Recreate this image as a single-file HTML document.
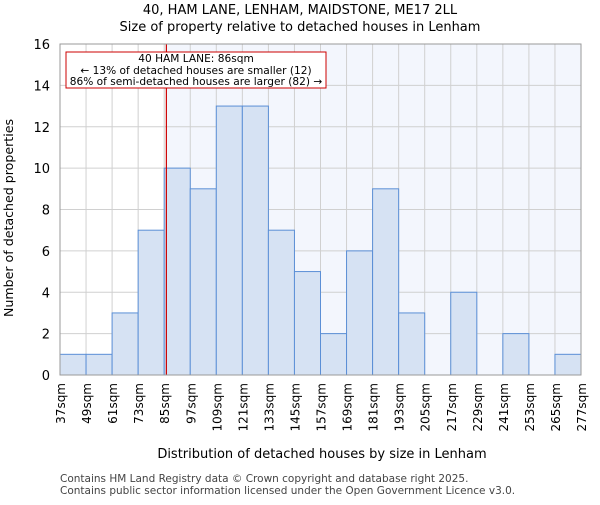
<!DOCTYPE html>
<html><head><meta charset="utf-8"><style>
body{margin:0;background:#fff;font-family:"Liberation Sans","DejaVu Sans",sans-serif}
svg text{font-family:"DejaVu Sans","Liberation Sans",sans-serif}
</style></head><body>
<svg id="c" width="600" height="500" xmlns="http://www.w3.org/2000/svg">
<text x="300" y="14" text-anchor="middle" font-size="13">40, HAM LANE, LENHAM, MAIDSTONE, ME17 2LL</text>
<text x="300" y="31" text-anchor="middle" font-size="13">Size of property relative to detached houses in Lenham</text>
<g id="plot"></g>
<text x="322" y="458" text-anchor="middle" font-size="13">Distribution of detached houses by size in Lenham</text>
<text transform="translate(13,218) rotate(-90)" text-anchor="middle" font-size="12.6">Number of detached properties</text>
<text x="60" y="482" font-size="10.5" fill="#444">Contains HM Land Registry data © Crown copyright and database right 2025.</text>
<text x="60" y="494" font-size="10.5" fill="#444">Contains public sector information licensed under the Open Government Licence v3.0.</text>
</svg>
<script>
const binStarts=[37,49,61,73,85,97,109,121,133,145,157,169,181,193,205,217,229,241,253,265];
const counts=[1,1,3,7,10,9,13,13,7,5,2,6,9,3,0,4,0,2,0,1];
const yTicks=[0,2,4,6,8,10,12,14,16];
const xTickLabels=[37,49,61,73,85,97,109,121,133,145,157,169,181,193,205,217,229,241,253,265,277];
const subjectSize=86;
const binWidth=12;
const L=60,R=581,T=44,B=375,xmin=37,xmax=277,ymax=16;
const X=v=>L+(v-xmin)/(xmax-xmin)*(R-L);
const Y=v=>B-v/ymax*(B-T);
const NS="http://www.w3.org/2000/svg";
const g=document.getElementById('plot');
function mk(t,a){const e=document.createElementNS(NS,t);for(const k in a)e.setAttribute(k,a[k]);g.appendChild(e);return e;}
let e;
e=mk('rect',{x:L,y:T,width:R-L,height:B-T,fill:'#fff'});


e=mk('rect',{x:X(subjectSize),y:T,width:R-X(subjectSize),height:B-T,fill:'#f3f6fd'});


yTicks.forEach(t=>{
 e=mk('line',{x1:L,x2:R,y1:Y(t),y2:Y(t),stroke:'#d0d0d0','stroke-width':1});
 
 
 e=mk('text',{x:L-10,y:Y(t)+5,'text-anchor':'end','font-size':13});
 e.textContent=t;
 
 
});
xTickLabels.forEach(t=>{
 e=mk('line',{x1:X(t),x2:X(t),y1:T,y2:B,stroke:'#d0d0d0','stroke-width':1});
 
 
 e=mk('text',{transform:`translate(${X(t)+5},${B+8}) rotate(-90)`,'text-anchor':'end','font-size':12});
 e.textContent=t+'sqm';
 
 
});
binStarts.forEach((s,i)=>{
 if(!counts[i])return;
 e=mk('rect',{x:X(s),y:Y(counts[i]),width:X(s+binWidth)-X(s),height:Y(0)-Y(counts[i]),fill:'#d6e2f3',stroke:'#5b8fd6','stroke-width':1});
 
 
});
e=mk('line',{x1:X(subjectSize),x2:X(subjectSize),y1:T,y2:B,stroke:'#cc0000','stroke-width':1.2});


e=mk('rect',{x:66,y:52,width:260,height:36,fill:'#fff',stroke:'#cc0000','stroke-width':1});


[['40 HAM LANE: 86sqm',62],['← 13% of detached houses are smaller (12)',74],['86% of semi-detached houses are larger (82) →',85]].forEach(([s,y])=>{
 e=mk('text',{x:196,y:y,'text-anchor':'middle','font-size':10.6});
 e.textContent=s;
 
 
});
e=mk('rect',{x:L,y:T,width:R-L,height:B-T,fill:'none',stroke:'#999','stroke-width':1});


</script>
</body></html>
